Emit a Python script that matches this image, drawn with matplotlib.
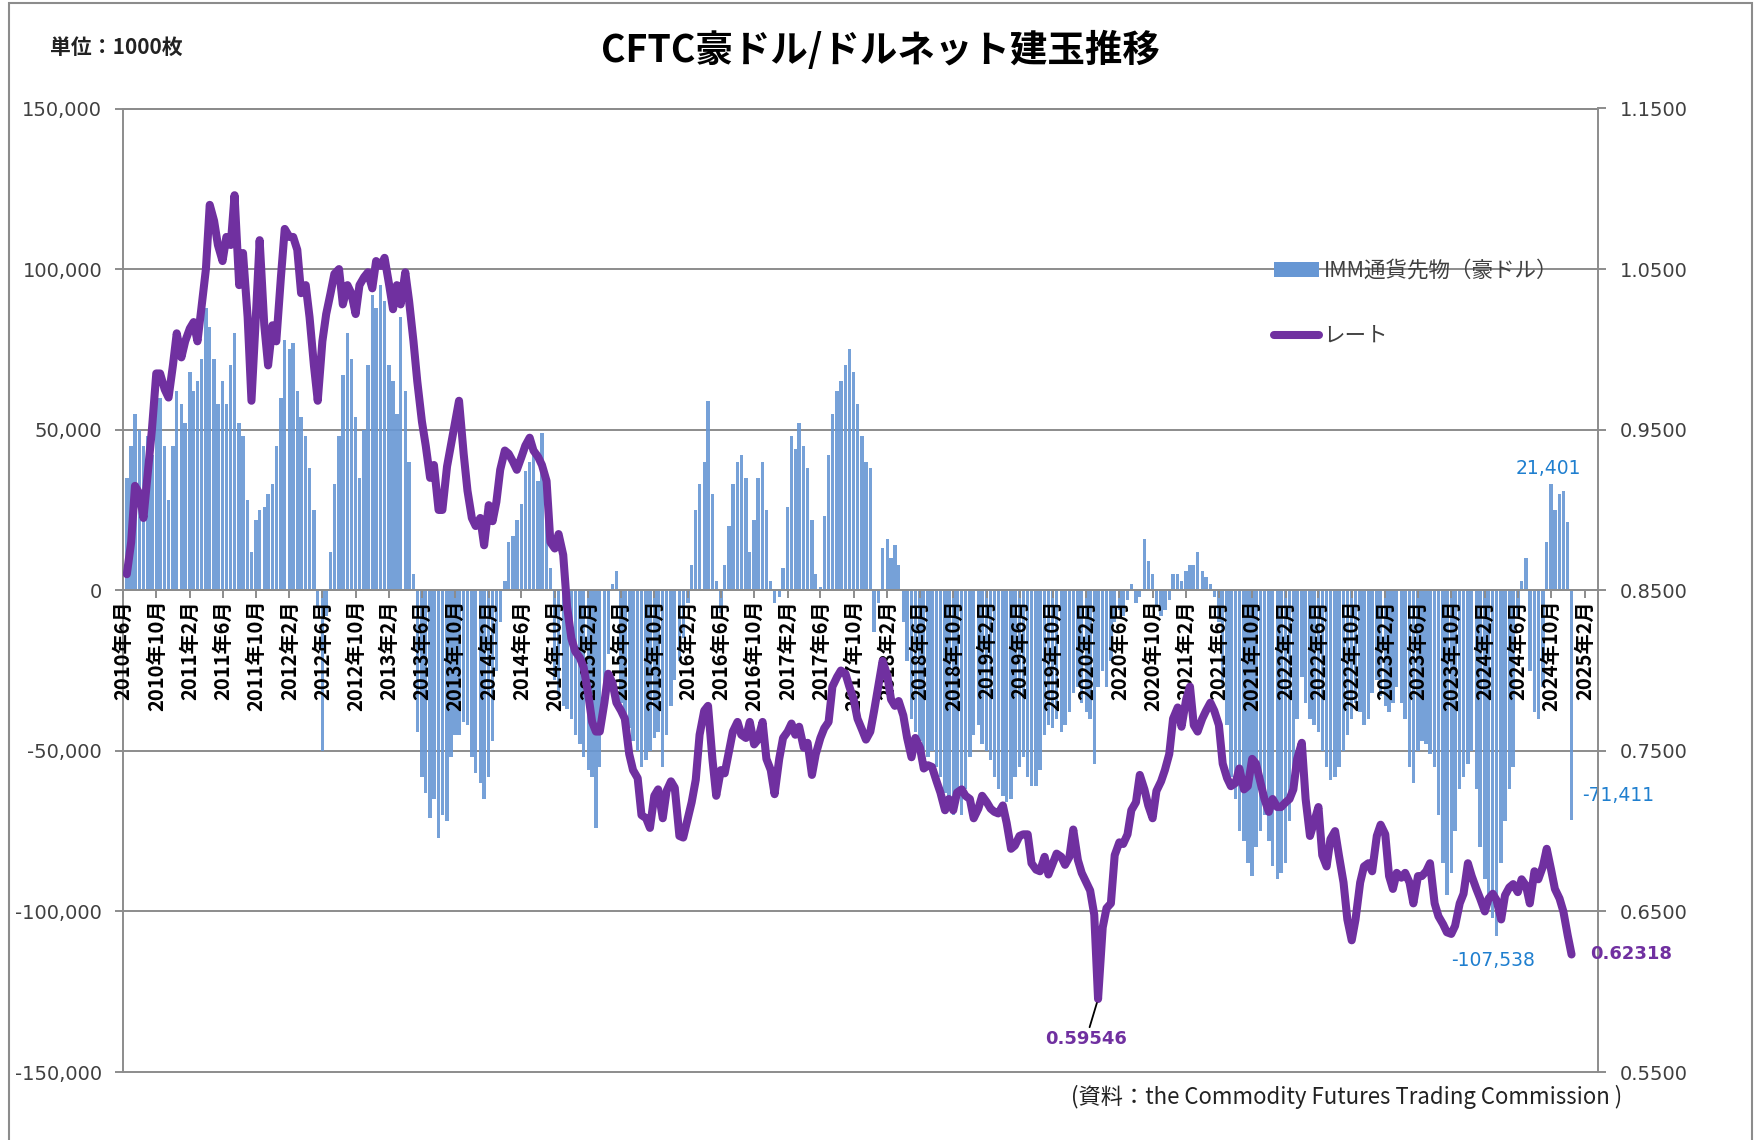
#!/usr/bin/env python3
# -*- coding: utf-8 -*-
"""
CFTC AUD net positions (IMM currency futures) against the AUD/USD rate.
Values are read by eye off the reference chart, twice a month.
"""
import numpy as np
import pandas as pd
import matplotlib
matplotlib.use("Agg")
import matplotlib.pyplot as plt
from matplotlib.lines import Line2D
from matplotlib.patches import Patch, Rectangle
from matplotlib.ticker import FuncFormatter

# 1st and 15th of each month, 2010-06-15 .. 2024-12-15
dates = pd.date_range("2010-06-15", "2024-12-15", freq="SMS")

# AUD/USD rate (right axis)
rate_2010 = [0.860, 0.880, 0.915, 0.910, 0.895, 0.925, 0.950, 0.985, 0.985,
             0.975, 0.970, 0.990, 1.010]
rate_2011 = [0.995, 1.005, 1.013, 1.017, 1.005, 1.025, 1.050, 1.090, 1.080,
             1.065, 1.055, 1.070, 1.065, 1.096, 1.040, 1.060, 1.020, 0.968,
             1.020, 1.068, 1.015, 0.990, 1.015, 1.005]
rate_2012 = [1.045, 1.075, 1.070, 1.070, 1.062, 1.035, 1.040, 1.020, 0.990,
             0.968, 1.005, 1.022, 1.035, 1.047, 1.050, 1.028, 1.040, 1.035,
             1.022, 1.040, 1.045, 1.048, 1.038, 1.055]
rate_2013 = [1.052, 1.057, 1.040, 1.025, 1.040, 1.028, 1.048, 1.030, 1.005,
             0.980, 0.955, 0.940, 0.920, 0.928, 0.900, 0.900, 0.927, 0.940,
             0.955, 0.968, 0.935, 0.912, 0.895, 0.890]
rate_2014 = [0.895, 0.878, 0.903, 0.893, 0.905, 0.925, 0.937, 0.935, 0.930,
             0.925, 0.933, 0.940, 0.945, 0.937, 0.933, 0.928, 0.918, 0.880,
             0.876, 0.885, 0.872, 0.840, 0.820, 0.812]
rate_2015 = [0.808, 0.802, 0.785, 0.768, 0.762, 0.762, 0.780, 0.798, 0.792,
             0.780, 0.775, 0.770, 0.748, 0.738, 0.733, 0.710, 0.708, 0.702,
             0.722, 0.726, 0.708, 0.725, 0.731, 0.727]
rate_2016 = [0.697, 0.696, 0.708, 0.718, 0.732, 0.760, 0.775, 0.778, 0.745,
             0.722, 0.738, 0.736, 0.750, 0.762, 0.768, 0.760, 0.758, 0.768,
             0.754, 0.757, 0.768, 0.745, 0.738, 0.723]
rate_2017 = [0.745, 0.758, 0.762, 0.767, 0.760, 0.765, 0.752, 0.755, 0.735,
             0.748, 0.758, 0.764, 0.768, 0.790, 0.796, 0.800, 0.798, 0.790,
             0.782, 0.770, 0.763, 0.757, 0.762, 0.775]
rate_2018 = [0.792, 0.806, 0.797, 0.782, 0.778, 0.781, 0.772, 0.758, 0.746,
             0.758, 0.752, 0.739, 0.741, 0.740, 0.731, 0.724, 0.713, 0.720,
             0.713, 0.724, 0.726, 0.722, 0.720, 0.708]
rate_2019 = [0.714, 0.722, 0.718, 0.714, 0.712, 0.711, 0.716, 0.705, 0.689,
             0.691, 0.697, 0.698, 0.698, 0.680, 0.676, 0.675, 0.684, 0.673,
             0.680, 0.686, 0.684, 0.679, 0.684, 0.701]
rate_2020 = [0.682, 0.674, 0.668, 0.663, 0.648, 0.59546, 0.640, 0.652, 0.655,
             0.685, 0.693, 0.692, 0.698, 0.713, 0.718, 0.735, 0.726, 0.716,
             0.708, 0.725, 0.731, 0.738, 0.748, 0.770]
rate_2021 = [0.777, 0.765, 0.782, 0.790, 0.766, 0.762, 0.770, 0.775, 0.780,
             0.775, 0.766, 0.742, 0.733, 0.728, 0.730, 0.739, 0.726, 0.728,
             0.745, 0.742, 0.730, 0.720, 0.712, 0.720]
rate_2022 = [0.715, 0.715, 0.718, 0.720, 0.726, 0.745, 0.755, 0.720, 0.697,
             0.705, 0.715, 0.685, 0.678, 0.695, 0.700, 0.685, 0.668, 0.645,
             0.632, 0.645, 0.668, 0.678, 0.680, 0.675]
rate_2023 = [0.697, 0.704, 0.698, 0.672, 0.664, 0.674, 0.671, 0.674, 0.668,
             0.655, 0.672, 0.672, 0.675, 0.680, 0.655, 0.647, 0.642, 0.637,
             0.636, 0.641, 0.655, 0.661, 0.680, 0.672]
rate_2024 = [0.664, 0.658, 0.650, 0.658, 0.661, 0.657, 0.645, 0.660, 0.665,
             0.667, 0.662, 0.670, 0.666, 0.655, 0.675, 0.670, 0.678, 0.689,
             0.676, 0.664, 0.658, 0.650, 0.635, 0.62318]

# IMM net position, 1000 contracts (left axis)
net_2010 = [35, 45, 55, 50, 45, 48, 42, 58, 60, 45, 28, 45, 62]
net_2011 = [58, 52, 68, 62, 65, 72, 88, 82, 72, 58, 65, 58, 70, 80, 52, 48,
            28, 12, 22, 25, 26, 30, 33, 45]
net_2012 = [60, 78, 75, 77, 62, 54, 48, 38, 25, -5, -50, -8, 12, 33, 48, 67,
            80, 72, 54, 35, 50, 70, 92, 88]
net_2013 = [95, 90, 70, 65, 55, 85, 62, 40, 5, -44, -58, -63, -71, -65, -77,
            -70, -72, -52, -45, -45, -41, -42, -52, -57]
net_2014 = [-60, -65, -58, -47, -25, -10, 3, 15, 17, 22, 27, 37, 40, 42, 34,
            49, 22, 7, -28, -33, -36, -37, -40, -45]
net_2015 = [-48, -52, -56, -58, -74, -55, -38, -20, 2, 6, -35, -40, -43, -47,
            -50, -55, -53, -50, -46, -44, -55, -45, -36, -28]
net_2016 = [-22, -15, -4, 8, 25, 33, 40, 59, 30, 3, -7, 8, 20, 33, 40, 42,
            35, 12, 22, 35, 40, 25, 3, -4]
net_2017 = [-2, 7, 26, 48, 44, 52, 45, 38, 22, 5, 1, 23, 42, 55, 62, 65, 70,
            75, 68, 58, 48, 40, 38, -13]
net_2018 = [-4, 13, 16, 10, 14, 8, -10, -22, -40, -44, -47, -50, -52, -50,
            -55, -58, -63, -68, -70, -66, -70, -62, -52, -45]
net_2019 = [-42, -48, -50, -53, -58, -62, -64, -66, -65, -58, -55, -52, -58,
            -61, -61, -56, -45, -42, -43, -40, -44, -42, -38, -32]
net_2020 = [-30, -35, -38, -40, -54, -30, -25, -30, -22, -10, -6, -8, -3, 2,
            -4, -2, 16, 9, 5, -5, -8, -6, -3, 5]
net_2021 = [5, 3, 6, 8, 8, 12, 6, 4, 2, -2, -10, -30, -42, -58, -65, -75,
            -78, -85, -89, -80, -75, -70, -78, -86]
net_2022 = [-90, -88, -85, -72, -58, -40, -27, -35, -40, -42, -44, -50, -55,
            -59, -58, -55, -50, -45, -40, -35, -38, -42, -40, -32]
net_2023 = [-28, -33, -36, -38, -35, -30, -35, -40, -55, -60, -50, -47, -48,
            -51, -55, -70, -85, -95, -88, -75, -62, -58, -54, -50]
net_2024 = [-62, -80, -90, -98, -102, -107.538, -85, -72, -62, -55, -8, 3, 10,
            -25, -38, -40, -30, 15, 33, 25, 30, 31, 21.401, -71.411]

rate = np.array(rate_2010 + rate_2011 + rate_2012 + rate_2013 + rate_2014 +
                rate_2015 + rate_2016 + rate_2017 + rate_2018 + rate_2019 +
                rate_2020 + rate_2021 + rate_2022 + rate_2023 + rate_2024)
net = np.array(net_2010 + net_2011 + net_2012 + net_2013 + net_2014 +
               net_2015 + net_2016 + net_2017 + net_2018 + net_2019 +
               net_2020 + net_2021 + net_2022 + net_2023 + net_2024) * 1000

tick_dates = pd.date_range("2010-06-01", "2025-02-01", freq="4MS")
tick_labels = [f"{d.year}年{d.month}月" for d in tick_dates]

series_names = ["IMM通貨先物（豪ドル）", "レート"]


def main():
    W, H = 1758, 1140
    BAR_C = "#6797d4"
    LINE_C = "#7030a0"
    LBL_C = "#1f7fcf"
    GRID_C = "#8c8c8c"
    TXT_C = "#404040"
    JP = ["Noto Sans CJK JP", "DejaVu Sans"]
    assert len(dates) == len(rate) == len(net)

    fig = plt.figure(figsize=(W / 100, H / 100), dpi=100)
    ax = fig.add_axes([123 / W, 1 - 1072 / H, (1598 - 123) / W,
                       (1072 - 108.5) / H])
    ax2 = ax.twinx()

    ax.bar(dates, net, width=12.5, color=BAR_C, alpha=0.9, lw=0, zorder=1.2)
    ax2.plot(dates, rate, color=LINE_C, lw=5.8, solid_joinstyle="round",
             solid_capstyle="round", zorder=3)

    ax.set_xlim(pd.Timestamp("2010-06-01"), pd.Timestamp("2025-03-22"))
    ax.set_ylim(-150000, 150000)
    ax2.set_ylim(0.55, 1.15)
    ax.set_yticks(np.arange(-150000, 150001, 50000))
    ax2.set_yticks(np.arange(0.55, 1.1501, 0.1))
    ax.yaxis.set_major_formatter(FuncFormatter(lambda v, p: f"{v:,.0f}"))
    ax2.yaxis.set_major_formatter(FuncFormatter(lambda v, p: f"{v:.4f}"))

    ax.set_xticks(tick_dates, labels=tick_labels)

    # gridlines behind the bars, axis labels above them
    ax.set_axisbelow(False)
    for yv in ax.get_yticks():
        ax.axhline(yv, color=GRID_C, lw=1.4, clip_on=False, zorder=1)
    ax.spines["bottom"].set_position(("data", 0))
    for s in ["left", "top", "bottom"]:
        ax.spines[s].set_color(GRID_C)
        ax.spines[s].set_linewidth(1.4)
    ax.spines["right"].set_visible(False)
    for s in ["left", "top", "bottom"]:
        ax2.spines[s].set_visible(False)
    ax2.spines["right"].set_color(GRID_C)
    ax2.spines["right"].set_linewidth(1.4)

    ax.tick_params(axis="y", direction="out", length=6, width=1.4,
                   color=GRID_C, labelcolor=TXT_C, labelsize=14, pad=9)
    ax2.tick_params(axis="y", direction="out", length=6, width=1.4,
                    color=GRID_C, labelcolor=TXT_C, labelsize=14, pad=10)
    ax.tick_params(axis="x", direction="out", length=6, width=1.4,
                   color=GRID_C, pad=1, labelrotation=90, labelsize=14.5,
                   labelcolor="black", labelfontfamily=JP)

    # value labels
    imin = int(np.argmin(rate))
    ax2.annotate(f"{rate[imin]:.5f}", xy=(dates[imin], rate[imin]),
                 xytext=(-12, -40), textcoords="offset pixels",
                 ha="center", va="center", color=LINE_C, fontsize=13,
                 fontweight="bold",
                 arrowprops=dict(arrowstyle="-", color="black", lw=1.3,
                                 shrinkA=0, shrinkB=3))
    ax2.annotate(f"{rate[-1]:.5f}", xy=(dates[-1], rate[-1]),
                 xytext=(19, 0), textcoords="offset pixels", ha="left",
                 va="center", color=LINE_C, fontsize=13, fontweight="bold")

    jmin = int(np.argmin(net))
    ax.annotate(f"{net[jmin]:,.0f}", xy=(dates[jmin], net[jmin]),
                xytext=(-3, -25), textcoords="offset pixels", ha="center",
                va="center", color=LBL_C, fontsize=13.5)
    ax.annotate(f"{net[-1]:,.0f}", xy=(dates[-1], net[-1]),
                xytext=(11, 24), textcoords="offset pixels", ha="left",
                va="center", color=LBL_C, fontsize=13.5)
    ax.annotate(f"{net[-2]:,.0f}", xy=(dates[-2], net[-2]),
                xytext=(-19, 53), textcoords="offset pixels", ha="center",
                va="center", color=LBL_C, fontsize=13.5)

    handles = [Patch(facecolor=BAR_C, edgecolor="none"),
               Line2D([0], [0], color=LINE_C, lw=5.8, solid_capstyle="round")]
    ax2.legend(handles, series_names, loc="upper left",
               bbox_to_anchor=(1274 / W, 1 - 260 / H),
               bbox_transform=fig.transFigure, frameon=False,
               prop={"family": JP, "size": 15.5}, labelcolor=TXT_C,
               handlelength=2.1, handleheight=0.65, handletextpad=0.2,
               labelspacing=2.0, borderpad=0, borderaxespad=0)

    fig.text(880 / W, 1 - 50 / H, "CFTC豪ドル/ドルネット建玉推移",
             ha="center", va="center", fontsize=27, fontweight="bold",
             family=JP, color="black")
    fig.text(50 / W, 1 - 47 / H, "単位：1000枚", ha="left", va="center",
             fontsize=15, fontweight="bold", family=JP, color="#222222")
    fig.text(1622 / W, 1 - 1097 / H,
             "(資料：the Commodity Futures Trading Commission )",
             ha="right", va="center", fontsize=16, family=JP,
             color="#222222")

    # chart area border
    fig.patches.append(Rectangle((9 / W, -0.02), (1752 - 9) / W,
                                 1.02 - 3 / H, transform=fig.transFigure,
                                 fill=False, edgecolor=GRID_C, lw=1.5))

    fig.canvas.draw()
    for t in ax.get_xticklabels():
        t.set_fontweight("bold")
    fig.savefig("out.png", dpi=100)


if __name__ == "__main__":
    main()
